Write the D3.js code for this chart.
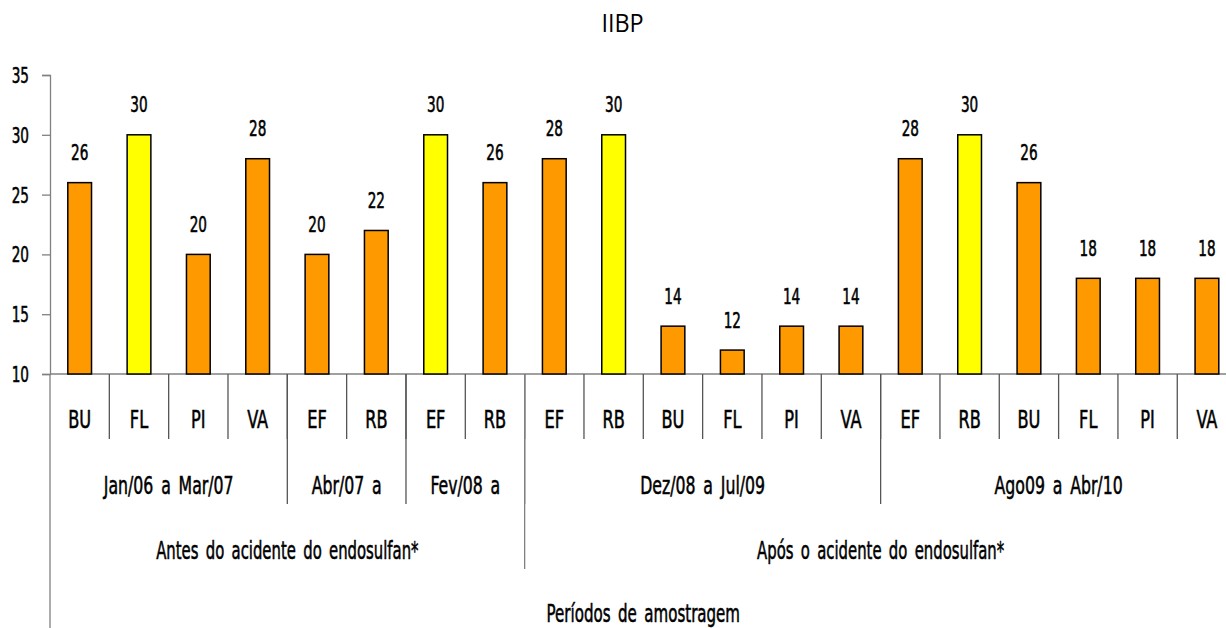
<!DOCTYPE html>
<html>
<head>
<meta charset="utf-8">
<script src="https://cdn.jsdelivr.net/npm/d3@7"></script>
<style>
  html, body { margin: 0; padding: 0; background: #fff; }
  svg text { font-family: "DejaVu Sans Condensed", "DejaVu Sans", sans-serif; fill: #000; }
  svg text.heavy { stroke: #000; stroke-width: 0.55px; }
</style>
</head>
<body>
<svg id="chart" width="1226" height="628"></svg>
<script>
// Sampling sites (innermost category level) and IIBP scores
const sites = ["BU","FL","PI","VA","EF","RB","EF","RB","EF","RB","BU","FL","PI","VA","EF","RB","BU","FL","PI","VA"];
const iibp  = [26, 30, 20, 28, 20, 22, 30, 26, 28, 30, 14, 12, 14, 14, 28, 30, 26, 18, 18, 18];
// Bars drawn in the highlight colour
const highlighted = [false,true,false,false,false,false,true,false,false,true,false,false,false,false,false,true,false,false,false,false];

// Sampling periods: label and number of sites covered
const periodLabels = ["Jan/06 a Mar/07", "Abr/07 a", "Fev/08 a", "Dez/08 a Jul/09", "Ago09 a Abr/10"];
const periodSizes  = [4, 2, 2, 6, 6];
// Before / after the accident
const phaseLabels = ["Antes do acidente do endosulfan*", "Após o acidente do endosulfan*"];
const phaseSizes  = [8, 12];
const axisTitle = "Períodos de amostragem";
const chartTitle = "IIBP";
const yTicks = [10, 15, 20, 25, 30, 35];

const svg = d3.select("#chart");
const plotLeft = 50, plotTop = 75, plotBottom = 374;
const step = 59.33;
const plotRight = plotLeft + step * sites.length;

const x = d3.scaleBand().domain(d3.range(sites.length)).range([plotLeft, plotRight]).padding(0);
const y = d3.scaleLinear().domain([10, 35]).range([plotBottom, plotTop]);

const axisColor = "#808080";
const sepColor = "#555";
const narrow = 0.72;   // horizontal squeeze for the condensed label face

// Text centred on (cx, cy), squeezed horizontally
function label(parent, cx, cy, txt, size, sx = narrow) {
  return parent.append("text")
    .attr("class", "heavy")
    .attr("transform", `translate(${cx},${cy}) scale(${sx},1)`)
    .attr("dy", "0.36em")
    .attr("text-anchor", "middle")
    .style("font-size", size + "px")
    .style("word-spacing", "4px")
    .text(txt);
}

// Title
label(svg, 622.5, 23, chartTitle, 26, 0.9)
  .attr("class", null)
  .style("font-family", "'Open Sans', 'Liberation Sans', sans-serif")
  .attr("dy", "0.35em");

// Y axis
const yAxis = d3.axisLeft(y).tickValues(yTicks).tickSize(8).tickFormat(d3.format("d"));
const gy = svg.append("g").attr("transform", `translate(${plotLeft},0)`).call(yAxis);
gy.select(".domain").attr("stroke", axisColor).attr("stroke-width", 1.3);
gy.selectAll(".tick line").attr("stroke", axisColor).attr("stroke-width", 1.3);
gy.selectAll(".tick text")
  .attr("class", "heavy")
  .attr("x", null).attr("dy", "0.36em")
  .attr("transform", `translate(-21,0) scale(${narrow},1)`)
  .attr("fill", "#000")
  .style("font-size", "21px")
  .style("font-family", "'DejaVu Sans Condensed', 'DejaVu Sans', sans-serif");

// Axis line along the baseline and down the left edge of the category area
svg.append("line").attr("x1", plotLeft).attr("x2", 1226).attr("y1", plotBottom).attr("y2", plotBottom)
  .attr("stroke", axisColor).attr("stroke-width", 1.3);
svg.append("line").attr("x1", plotLeft).attr("x2", plotLeft).attr("y1", plotBottom).attr("y2", 628)
  .attr("stroke", axisColor).attr("stroke-width", 1.3);

// Bars
const barW = x.bandwidth() * 0.4;
svg.append("g").selectAll("rect").data(iibp).join("rect")
  .attr("x", (d, i) => x(i) + (x.bandwidth() - barW) / 2)
  .attr("y", d => y(d))
  .attr("width", barW)
  .attr("height", d => y(10) - y(d))
  .attr("fill", (d, i) => highlighted[i] ? "#FFFF00" : "#FF9900")
  .attr("stroke", "#000").attr("stroke-width", 1.5);

// Value labels
const gv = svg.append("g");
iibp.forEach((v, i) => label(gv, x(i) + x.bandwidth() / 2, y(v) - 30, v, 21));

// Site labels and separators
const gs = svg.append("g");
sites.forEach((s, i) => label(gs, x(i) + x.bandwidth() / 2, 419, s, 25));
svg.append("g").selectAll("line").data(d3.range(1, sites.length + 1)).join("line")
  .attr("x1", i => plotLeft + i * x.bandwidth()).attr("x2", i => plotLeft + i * x.bandwidth())
  .attr("y1", plotBottom).attr("y2", 439)
  .attr("stroke", sepColor).attr("stroke-width", 1.3);

// Grouped levels: start/end indices from cumulative sizes
function spans(sizes) {
  let s = 0;
  return sizes.map(n => { const r = [s, s + n]; s += n; return r; });
}
const periodSpans = spans(periodSizes);
const phaseSpans = spans(phaseSizes);
const edge = i => plotLeft + i * x.bandwidth();

const gp = svg.append("g");
periodLabels.forEach((t, i) =>
  label(gp, (edge(periodSpans[i][0]) + edge(periodSpans[i][1])) / 2, 485, t, 25, 0.7));
svg.append("g").selectAll("line").data(periodSpans).join("line")
  .attr("x1", d => edge(d[1])).attr("x2", d => edge(d[1]))
  .attr("y1", plotBottom).attr("y2", 504)
  .attr("stroke", sepColor).attr("stroke-width", 1.3);

const gph = svg.append("g");
phaseLabels.forEach((t, i) =>
  label(gph, (edge(phaseSpans[i][0]) + edge(phaseSpans[i][1])) / 2, 549.5, t, 25, 0.66));
svg.append("g").selectAll("line").data(phaseSpans).join("line")
  .attr("x1", d => edge(d[1])).attr("x2", d => edge(d[1]))
  .attr("y1", plotBottom).attr("y2", 569)
  .attr("stroke", axisColor).attr("stroke-width", 1.3);

label(svg, (plotLeft + plotRight) / 2, 613, axisTitle, 25, 0.67);
</script>
</body>
</html>
